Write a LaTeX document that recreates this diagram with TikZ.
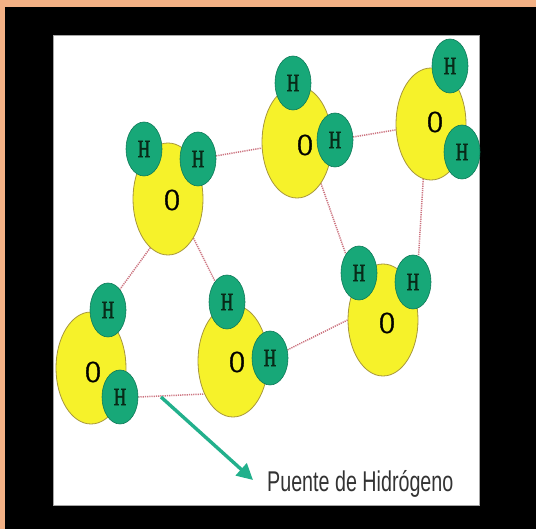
\documentclass[tikz,border=0pt]{standalone}
\usepackage{fontspec}
\setmainfont{Liberation Serif}
\newfontfamily\atomfont[FakeBold=2]{Liberation Serif}
\newfontfamily\captionsans{Liberation Sans}
\usetikzlibrary{shapes.geometric,arrows.meta}
\pgfdeclarelayer{bg}
\pgfsetlayers{bg,main}

\definecolor{frameorange}{HTML}{F3B185}
\definecolor{oxyfill}{HTML}{F6F22A}
\definecolor{oxyline}{HTML}{A8983C}
\definecolor{hydfill}{HTML}{17A878}
\definecolor{hydline}{HTML}{0E7A58}
\definecolor{hydtext}{HTML}{082A18}
\definecolor{bondcol}{HTML}{CC7480}
\definecolor{arrowcol}{HTML}{22B08C}
\definecolor{captiongray}{HTML}{333333}

% glyphs on the atoms are drawn tall and narrow
\newcommand{\tallglyph}[1]{\scalebox{1}[1.45]{#1}}

\begin{document}
\begin{tikzpicture}[x=1pt,y=-1pt,
  oxy/.style={ellipse, fill=oxyfill, draw=oxyline, line width=0.8pt,
    minimum width=70pt, minimum height=112pt, inner sep=0pt},
  hyd/.style={ellipse, fill=hydfill, draw=hydline, line width=0.6pt,
    minimum width=36pt, minimum height=54pt, inner sep=0pt,
    font=\atomfont\fontsize{17}{17}\selectfont, text=hydtext},
  olbl/.style={font=\atomfont\fontsize{21}{21}\selectfont, inner sep=0pt, text=black},
  bond/.style={draw=bondcol, line width=1.5pt, dash pattern=on 1.2pt off 1pt},
  pointer/.style={draw=arrowcol, line width=3.4pt,
    -{Triangle[length=16pt,width=16pt]}, arrowcol}
]
\useasboundingbox (0,0) rectangle (536,529);

\begin{pgfonlayer}{bg}
  % frame: orange strip, black field, white panel
  \fill[frameorange] (0,0) rectangle (536,529);
  \fill[black] (5,7) rectangle (536,529);
  \fill[white, draw=gray!70, line width=1pt] (53,36) rectangle (479,505);
\end{pgfonlayer}

% molecule A (upper left)
\node[oxy] (A) at (168,199) {};
\node[olbl] (Ao) at (172,200) {\tallglyph{O}};
\node[hyd] (A1) at (144,149) {\tallglyph{H}};
\node[hyd] (A2) at (198,159) {\tallglyph{H}};

% molecule B (upper middle)
\node[oxy] (B) at (297,142) {};
\node[olbl] (Bo) at (305,145) {\tallglyph{O}};
\node[hyd] (B1) at (293,83) {\tallglyph{H}};
\node[hyd] (B2) at (335,140) {\tallglyph{H}};

% molecule C (upper right)
\node[oxy] (C) at (431,124) {};
\node[olbl] (Co) at (435,122) {\tallglyph{O}};
\node[hyd] (C1) at (450,66) {\tallglyph{H}};
\node[hyd] (C2) at (462,152) {\tallglyph{H}};

% molecule D (lower left)
\node[oxy] (D) at (91,368) {};
\node[olbl] (Do) at (93,372) {\tallglyph{O}};
\node[hyd] (D1) at (108,310) {\tallglyph{H}};
\node[hyd] (D2) at (120,397) {\tallglyph{H}};

% molecule E (lower middle)
\node[oxy] (E) at (233,361) {};
\node[olbl] (Eo) at (237,362) {\tallglyph{O}};
\node[hyd] (E1) at (227,302) {\tallglyph{H}};
\node[hyd] (E2) at (270,358) {\tallglyph{H}};

% molecule F (right middle)
\node[oxy] (F) at (383,320) {};
\node[olbl] (Fo) at (387,323) {\tallglyph{O}};
\node[hyd] (F1) at (359,273) {\tallglyph{H}};
\node[hyd] (F2) at (413,282) {\tallglyph{H}};

% hydrogen bonds, kept behind the molecules
\begin{pgfonlayer}{bg}
  \path[bond] (A2) -- (B);
  \path[bond] (B2) -- (C);
  \path[bond] (A.250) -- (D1.60);
  \path[bond] (A.303) -- (E1.120);
  \path[bond] (B.300) -- (F1.125);
  \path[bond] (C.262) -- (F2.78);
  \path[bond] (D2.east) -- (E.229);
  \path[bond] (E2.25) -- (F.180);
\end{pgfonlayer}

% caption and pointer
\node[anchor=base west, inner sep=0pt, text=captiongray,
      font=\captionsans\fontsize{19.7}{20}\selectfont] (cap) at (267,492)
  {\scalebox{1}[1.45]{Puente de Hidrógeno}};
\coordinate (bridgept) at (161,397);
\coordinate (tip) at (253,480);
\draw[pointer] (bridgept) -- (tip);
\end{tikzpicture}
\end{document}
